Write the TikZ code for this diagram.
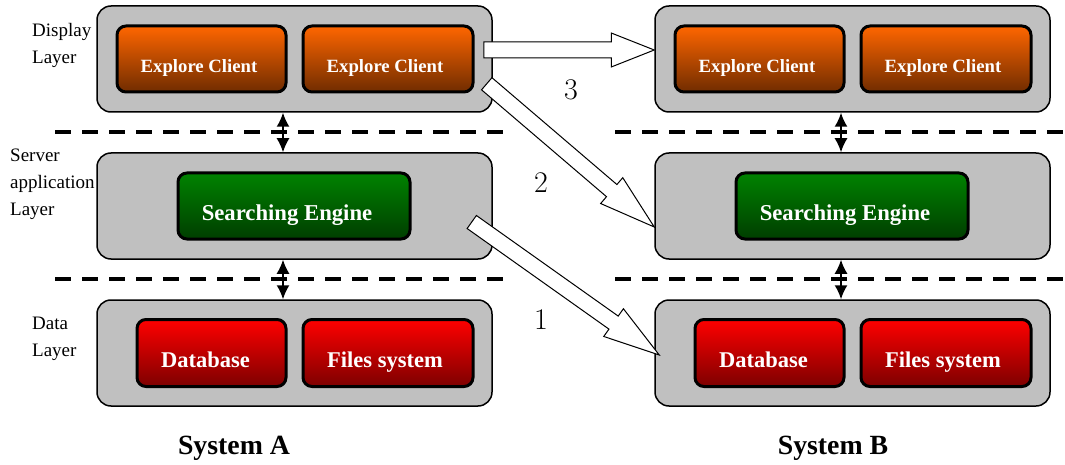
\documentclass[tikz,border=0pt]{standalone}
\usepackage{fontspec}
\newfontfamily\tnr{Liberation Serif}
\usepackage{tikz}
\usetikzlibrary{arrows.meta,calc}
\definecolor{boxgray}{RGB}{192,192,192}
\definecolor{clientTop}{RGB}{255,102,0}
\definecolor{clientBot}{RGB}{112,44,0}
\definecolor{engineTop}{RGB}{0,130,0}
\definecolor{engineBot}{RGB}{0,62,0}
\definecolor{dataTop}{RGB}{255,0,0}
\definecolor{dataBot}{RGB}{125,0,0}
\tikzstyle{layerbox}=[draw, line width=1.5pt, fill=boxgray, rounded corners=14pt, minimum width=395pt, minimum height=106pt]
\tikzstyle{inbox}=[draw, line width=3pt, rounded corners=9pt, text=white, inner sep=0pt]
\tikzstyle{clientbox}=[inbox, top color=clientTop, bottom color=clientBot, minimum width=169pt, minimum height=66pt, font=\tnr\bfseries\fontsize{18.7}{22}\selectfont, text height=31pt, text depth=4pt]
\tikzstyle{enginebox}=[inbox, top color=engineTop, bottom color=engineBot, minimum width=232pt, minimum height=66pt, font=\tnr\bfseries\fontsize{22.7}{26}\selectfont, text height=33pt, text depth=5pt]
\tikzstyle{databox}=[inbox, top color=dataTop, bottom color=dataBot, minimum width=170pt, minimum height=67pt, font=\tnr\bfseries\fontsize{22.5}{26}\selectfont, text height=33pt, text depth=5pt]
\tikzstyle{layertext}=[anchor=west, align=left, inner sep=0pt, font=\tnr\fontsize{19}{27}\selectfont]
\tikzstyle{systext}=[font=\tnr\bfseries\fontsize{27.8}{32}\selectfont]
\tikzstyle{numlabel}=[font=\fontsize{30}{34}\selectfont]
\tikzstyle{sepline}=[line width=4pt, dash pattern=on 16pt off 11pt]
\tikzstyle{updown}=[line width=1.6pt, {Latex[length=14pt,width=13pt]}-{Latex[length=14pt,width=13pt]}]
\tikzstyle{hollow}=[draw=black, fill=white, line width=1pt, line join=miter]
% wide open arrow: tail, tip, head length
\newcommand{\hollowArrow}[3]{
	\coordinate (HAb) at ($#2!#3!#1$);
	\draw[hollow] ($#1!8pt!90:#2$) -- ($(HAb)!8pt!90:#2$) -- ($(HAb)!17pt!90:#2$) -- #2
		-- ($(HAb)!17pt!-90:#2$) -- ($(HAb)!8pt!-90:#2$) -- ($#1!8pt!-90:#2$) -- cycle;
}
% pushes a box label to the left
\newcommand{\lpad}[1]{\hspace{#1}\mbox{}}
\begin{document}
\begin{tikzpicture}[x=1pt,y=-1pt]
	\useasboundingbox (0,0) rectangle (1065,465);
	% the three layers of each system
	\foreach \s/\dx/\sx in {A/0/234, B/558/833}{
		\node[layerbox] (disp\s) at (294.5+\dx,59) {};
		\node[layerbox] (serv\s) at (294.5+\dx,206) {};
		\node[layerbox] (data\s) at (294.5+\dx,353) {};
		\node[clientbox] (cl\s1) at (201.5+\dx,59) {Explore Client\lpad{5pt}};
		\node[clientbox, minimum width=170pt] (cl\s2) at (388+\dx,59) {Explore Client\lpad{6pt}};
		\node[enginebox] (eng\s) at (294+\dx,206) {Searching Engine\lpad{14pt}};
		\node[databox, minimum width=149pt] (db\s) at (211.5+\dx,353) {Database\lpad{12pt}};
		\node[databox] (fs\s) at (388+\dx,353) {Files system\lpad{6pt}};
		\draw[updown] ($(disp\s.south)+(-11.5,0)$) -- ($(serv\s.north)+(-11.5,0)$);
		\draw[updown] ($(serv\s.south)+(-11.5,0)$) -- ($(data\s.north)+(-11.5,0)$);
		\node[systext] (sys\s) at (\sx,448) {System \s};
	}
	\draw[sepline] (55,132) -- (512,132);
	\draw[sepline] (615,132) -- (1065,132);
	\draw[sepline] (55,279) -- (512,279);
	\draw[sepline] (615,279) -- (1065,279);
	\node[layertext] (lblDisp) at (32,45) {Display\\Layer};
	\node[layertext] (lblServ) at (10,184) {Server\\application\\Layer};
	\node[layertext] (lblData) at (32,339) {Data\\Layer};
	% transfers from A to B
	\coordinate (t3) at ($(dispA.east)+(-9,-9)$);
	\coordinate (h3) at ($(dispB.west)+(0,-9)$);
	\coordinate (t2) at ($(dispA.south east)+(-6,-29)$);
	\coordinate (h2) at ($(servB.west)+(0,21)$);
	\coordinate (t1) at ($(servA.east)+(-21,16)$);
	\coordinate (h1) at ($(dataB.west)+(5,2)$);
	\hollowArrow{(t3)}{(h3)}{43pt}
	\hollowArrow{(t2)}{(h2)}{56pt}
	\hollowArrow{(t1)}{(h1)}{56pt}
	\node[numlabel] (n3) at (571,90) {3};
	\node[numlabel] (n2) at (541,183) {2};
	\node[numlabel] (n1) at (541,320) {1};
\end{tikzpicture}
\end{document}
